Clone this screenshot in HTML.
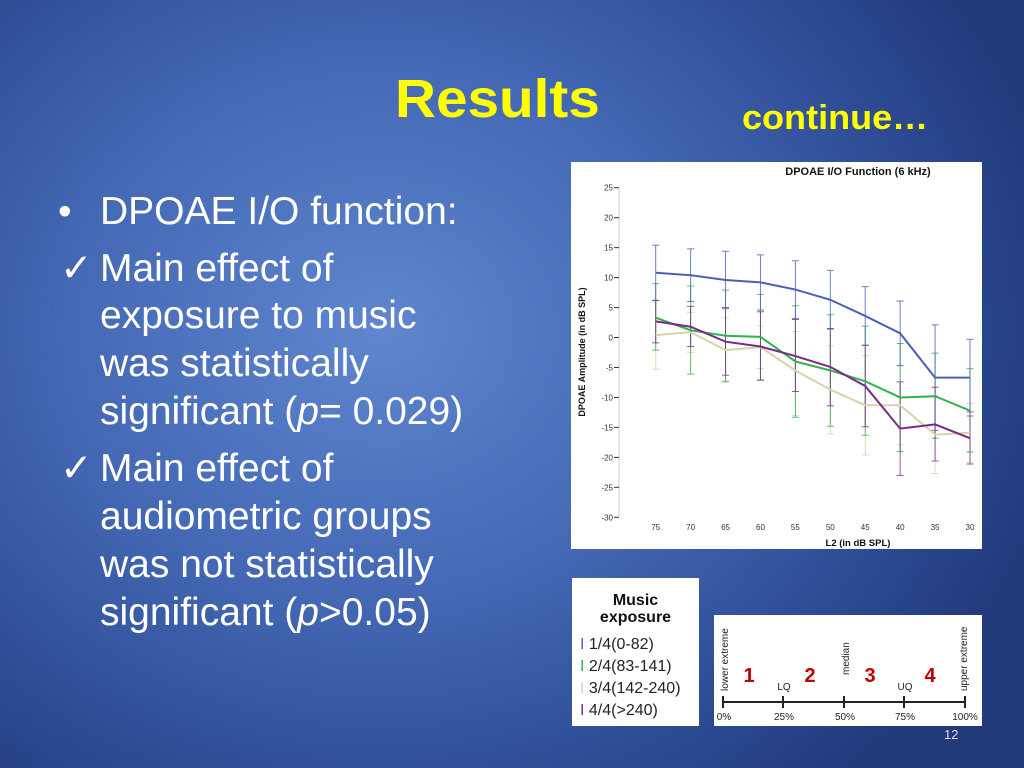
<!DOCTYPE html>
<html><head><meta charset="utf-8"><style>
body{margin:0;width:1024px;height:768px;overflow:hidden;font-family:"Liberation Sans",sans-serif}
#slide{position:relative;width:1024px;height:768px;background:radial-gradient(ellipse 700px 600px at 380px 330px,#5f86cf 0%,#4468b4 45%,#2c4a92 80%,#22397a 100%)}
.t{position:absolute;color:#fff;font-size:39px;white-space:nowrap;line-height:1}
.box{position:absolute;background:#fff}
</style></head><body>
<div id="slide">
<div style="position:absolute;left:395px;top:68px;font-size:54px;font-weight:bold;color:#ffff00;transform:scaleX(1.05);transform-origin:left">Results</div>
<div style="position:absolute;left:742px;top:99px;font-size:34px;font-weight:bold;color:#ffff00;transform:scaleX(1.06);transform-origin:left">continue…</div>
<div class="t" style="left:58px;top:192px">•</div>
<div class="t" style="left:100px;top:192px">DPOAE I/O function:</div>
<div class="t" style="left:60px;top:249px">✓</div>
<div class="t" style="left:100px;top:249px">Main effect of</div>
<div class="t" style="left:100px;top:296px">exposure to music</div>
<div class="t" style="left:100px;top:344px">was statistically</div>
<div class="t" style="left:100px;top:392px">significant (<i>p</i>= 0.029)</div>
<div class="t" style="left:60px;top:449px">✓</div>
<div class="t" style="left:100px;top:449px">Main effect of</div>
<div class="t" style="left:100px;top:497px">audiometric groups</div>
<div class="t" style="left:100px;top:545px">was not statistically</div>
<div class="t" style="left:100px;top:593px">significant (<i>p</i>&gt;0.05)</div>

<div class="box" style="left:571px;top:162px;width:411px;height:387px">
<svg id="chart" width="411" height="387"></svg>
</div>

<div class="box" style="left:572px;top:578px;width:127px;height:148px">
<div style="position:absolute;left:0;width:127px;top:14px;text-align:center;font-weight:bold;font-size:16px;line-height:17px;color:#111">Music<br>exposure</div>
<div style="position:absolute;left:8px;top:58px;font-size:16px;color:#222"><span style="color:#4a5fb8">I</span> 1/4(0-82)</div>
<div style="position:absolute;left:8px;top:80px;font-size:16px;color:#222"><span style="color:#2fb34a">I</span> 2/4(83-141)</div>
<div style="position:absolute;left:8px;top:102px;font-size:16px;color:#222"><span style="color:#d8d2a8">I</span> 3/4(142-240)</div>
<div style="position:absolute;left:8px;top:124px;font-size:16px;color:#222"><span style="color:#7a2a86">I</span> 4/4(&gt;240)</div>
</div>

<div class="box" style="left:714px;top:615px;width:268px;height:111px">
<svg width="268" height="111" font-family="Liberation Sans, sans-serif">
<line x1="9" y1="87" x2="251" y2="87" stroke="#222" stroke-width="2"/>
<g stroke="#222" stroke-width="2"><line x1="9" y1="81" x2="9" y2="93"/><line x1="69" y1="81" x2="69" y2="93"/><line x1="130" y1="81" x2="130" y2="93"/><line x1="190" y1="81" x2="190" y2="93"/><line x1="251" y1="81" x2="251" y2="93"/></g>
<g font-size="10" fill="#222" text-anchor="middle"><text x="10" y="105">0%</text><text x="70" y="105">25%</text><text x="131" y="105">50%</text><text x="191" y="105">75%</text><text x="251" y="105">100%</text>
<text x="70" y="75">LQ</text><text x="191" y="75">UQ</text></g>
<g font-size="10" fill="#222"><text transform="translate(14,76) rotate(-90)">lower extreme</text><text transform="translate(135,60) rotate(-90)">median</text><text transform="translate(253,76) rotate(-90)">upper extreme</text></g>
<g font-size="20" font-weight="bold" fill="#c00000" text-anchor="middle"><text x="35" y="67">1</text><text x="96" y="67">2</text><text x="156" y="67">3</text><text x="216" y="67">4</text></g>
</svg>
</div>
<div style="position:absolute;left:944px;top:727px;font-size:13px;color:#dde">12</div>
</div>
<script>
const categories=[75,70,65,60,55,50,45,40,35,30];
const yTicks=[25,20,15,10,5,0,-5,-10,-15,-20,-25,-30];
const seriesNames=["1/4(0-82)","2/4(83-141)","3/4(142-240)","4/4(>240)"];
const colors=["#4a5fb8","#2fb34a","#d8d2a8","#7a2a86"];
const blueMean=[10.8,10.4,9.6,9.2,8.0,6.3,3.6,0.7,-6.7,-6.7];
const blueHi=[15.4,14.8,14.4,13.8,12.8,11.2,8.5,6.1,2.1,-0.3];
const blueLo=[6.2,6.0,4.8,4.6,3.2,1.4,-1.3,-4.7,-15.5,-13.1];
const greenMean=[3.3,1.2,0.3,0.1,-4.0,-5.5,-7.3,-10.0,-9.8,-12.2];
const greenHi=[9.0,8.6,7.9,7.2,5.3,3.8,1.9,-1.0,-2.6,-5.2];
const greenLo=[-2.1,-6.1,-7.3,-7.1,-13.3,-14.8,-16.3,-19.0,-16.8,-19.1];
const tanMean=[0.4,0.9,-2.1,-1.6,-5.5,-8.7,-11.3,-11.3,-16.2,-15.9];
const tanHi=[6.1,4.2,3.3,1.9,1.0,-1.4,-3.0,-4.7,-9.7,-11.0];
const tanLo=[-5.3,-2.5,-7.5,-5.2,-13.0,-16.1,-19.6,-17.9,-22.7,-20.8];
const purpleMean=[2.7,1.8,-0.7,-1.5,-3.1,-4.9,-8.1,-15.2,-14.5,-16.8];
const purpleHi=[6.2,5.2,5.0,4.3,3.0,1.5,-1.3,-7.4,-8.3,-12.4];
const purpleLo=[-0.9,-1.5,-6.3,-7.1,-9.0,-11.4,-14.9,-23.0,-20.6,-21.1];
const means=[blueMean,greenMean,tanMean,purpleMean],his=[blueHi,greenHi,tanHi,purpleHi],los=[blueLo,greenLo,tanLo,purpleLo];
const NS="http://www.w3.org/2000/svg",svg=document.getElementById('chart');
const yTop=25.7,yBot=355.3,vMax=25,vMin=-30;
function y(v){return yTop+(vMax-v)/(vMax-vMin)*(yBot-yTop);}
function x(i){return 84.7+i*(399-84.7)/(categories.length-1);}
function mk(t,a){const e=document.createElementNS(NS,t);for(const k in a)e.setAttribute(k,a[k]);svg.appendChild(e);return e;}
let e=mk('text',{x:287,y:13,'font-size':11,'font-weight':'bold','text-anchor':'middle',fill:'#111'});e.textContent='DPOAE I/O Function (6 kHz)';


e=mk('line',{x1:48,y1:yTop,x2:48,y2:yBot,stroke:'#ccc','stroke-width':1});


yTicks.forEach(v=>{let t=mk('line',{x1:43,x2:48,y1:y(v),y2:y(v),stroke:'#333'});


let l=mk('text',{x:42,y:y(v)+3,'font-size':8,'text-anchor':'end',fill:'#333'});l.textContent=v;

});
categories.forEach((c,i)=>{let l=mk('text',{x:x(i),y:368,'font-size':8,'text-anchor':'middle',fill:'#333'});l.textContent=c;

});
e=mk('text',{x:287,y:384,'font-size':9.5,'font-weight':'bold','text-anchor':'middle',fill:'#111'});e.textContent='L2 (in dB SPL)';


e=mk('text',{transform:'translate(14,190) rotate(-90)','font-size':9,'font-weight':'bold','text-anchor':'middle',fill:'#111'});e.textContent='DPOAE Amplitude (in dB SPL)';


[2,1,3,0].forEach(s=>{
 categories.forEach((c,i)=>{
  let g=mk('path',{d:`M${x(i)},${y(his[s][i])}V${y(los[s][i])}M${x(i)-3.5},${y(his[s][i])}h7M${x(i)-3.5},${y(los[s][i])}h7`,stroke:colors[s],'stroke-width':1,fill:'none',opacity:0.8});
  
  
 });
});
[2,1,3,0].forEach(s=>{
 let p=mk('polyline',{points:means[s].map((v,i)=>x(i)+','+y(v)).join(' '),stroke:colors[s],'stroke-width':2,fill:'none'});
 
 
});
</script>
</body></html>
